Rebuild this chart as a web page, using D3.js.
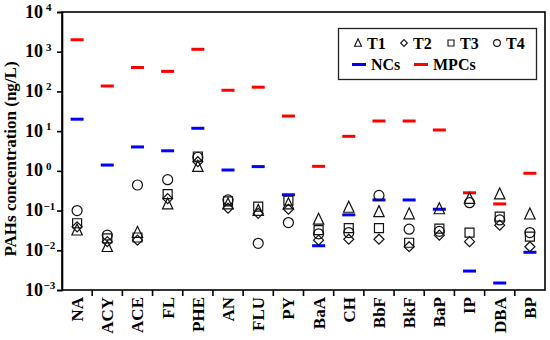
<!DOCTYPE html>
<html><head><meta charset="utf-8">
<script src="https://cdn.jsdelivr.net/npm/d3@7"></script>
<style>
html,body{margin:0;padding:0;background:#fff;}
svg{display:block;}
</style></head>
<body>
<svg id="chart" width="550" height="340"></svg>
<script>
const categories = ["NA","ACY","ACE","FL","PHE","AN","FLU","PY","BaA","CH","BbF","BkF","BaP","IP","DBA","BP"];
const T1 = [0.032,0.0123,0.028,0.145,1.28,0.145,0.10,0.146,0.06,0.12,0.093,0.082,0.11,0.2,0.26,0.081];
const T2 = [0.039,0.0165,0.018,0.20,1.7,0.115,0.085,0.108,0.018,0.019,0.019,0.0123,0.024,0.0165,0.043,0.0123];
const T3 = [0.048,0.020,0.021,0.26,2.3,0.17,0.126,0.178,0.032,0.036,0.036,0.0155,0.035,0.028,0.07,0.022];
const T4 = [0.10,0.024,0.44,0.6,2.2,0.185,0.015,0.05,0.026,0.028,0.24,0.034,0.03,0.158,0.058,0.028];
const NCs = [20,1.4,4.0,3.2,11.8,1.05,1.28,0.25,0.013,0.078,0.185,0.185,0.108,0.003,0.0015,0.0089];
const MPCs = [2000,137,400,320,1150,107,128,24,1.3,7.4,18,18,10.7,0.28,0.147,0.87];
const yTickExps = [-3,-2,-1,0,1,2,3,4];
const seriesNames = ["T1","T2","T3","T4"];
const limitNames = ["NCs","MPCs"];

const FONT = '"Liberation Serif","DejaVu Serif",serif';
const svg = d3.select("#chart");
const L = 62, R = 545, T = 12, B = 290;
const x = d3.scaleBand().domain(categories).range([L, R]).padding(0);
const y = d3.scaleLog().domain([1e-3, 1e4]).range([B, T]);

function txt(sel, size){ return sel.style("font-family",FONT).style("font-weight","bold").style("font-size",size+"px").attr("fill","#000"); }

// custom symbols
const triSym = {draw(c, s){ const r = Math.sqrt(s); c.moveTo(0,-0.62*r); c.lineTo(0.52*r,0.48*r); c.lineTo(-0.52*r,0.48*r); c.closePath(); }};
const diaSym = {draw(c, s){ const r = Math.sqrt(s)/2; c.moveTo(0,-r); c.lineTo(r,0); c.lineTo(0,r); c.lineTo(-r,0); c.closePath(); }};
const sqSym = {draw(c, s){ const r = Math.sqrt(s)/2; c.rect(-r,-r,2*r,2*r); }};
const cirSym = {draw(c, s){ const r = Math.sqrt(s)/2; c.moveTo(r,0); c.arc(0,0,r,0,2*Math.PI); }};
const symTypes = [triSym, diaSym, sqSym, cirSym];
const symSizes = [100, 100, 81, 100];
const limitColors = ["#0000ff","#ff0000"];

// frame
svg.append("rect").attr("x",L).attr("y",T).attr("width",R-L).attr("height",B-T)
  .attr("fill","none").attr("stroke","#000").attr("stroke-width",1.6);

// y axis
const yAxis = d3.axisLeft(y).tickValues(yTickExps.map(e=>Math.pow(10,e))).tickSize(5).tickFormat("");
const gy = svg.append("g").attr("transform",`translate(${L},0)`).call(yAxis);
gy.select(".domain").attr("stroke-width",1.6);
gy.selectAll(".tick line").attr("stroke-width",1.6);
yTickExps.forEach(e=>{
  txt(svg.append("text").attr("x",43).attr("y",y(Math.pow(10,e))+5.5)
    .attr("text-anchor","end"),18).text("10");
  txt(svg.append("text").attr("x", e<0 ? 43.5 : 46).attr("y",y(Math.pow(10,e))-1), 11)
    .text(e<0 ? "\u2212"+(-e) : String(e));
});

// x axis
const xAxis = d3.axisBottom(x).tickSize(0).tickFormat(d=>d);
const gx = svg.append("g").attr("transform",`translate(0,${B})`).call(xAxis);
gx.select(".domain").remove();
txt(gx.selectAll(".tick text").attr("transform","translate(0,7) rotate(-90)")
  .attr("text-anchor","end").attr("dy","0.35em").attr("x",0).attr("y",0), 17);
categories.slice(1).forEach(c=>{
  svg.append("line").attr("x1",x(c)).attr("x2",x(c)).attr("y1",B).attr("y2",B+6)
    .attr("stroke","#000").attr("stroke-width",1.6);
});

// y title
txt(svg.append("text").attr("transform",`translate(16,${(T+B)/2+8}) rotate(-90)`)
  .attr("text-anchor","middle"),17).text("PAHs concentration (ng/L)");

// limit dashes
[NCs, MPCs].forEach((arr,k)=>{
  svg.append("g").selectAll("line").data(arr).join("line")
    .attr("x1",(d,i)=>x(categories[i])+x.bandwidth()/2-6.5)
    .attr("x2",(d,i)=>x(categories[i])+x.bandwidth()/2+6.5)
    .attr("y1",d=>y(d)).attr("y2",d=>y(d))
    .attr("stroke",limitColors[k]).attr("stroke-width",3);
});

// markers
[T1,T2,T3,T4].forEach((arr,k)=>{
  svg.append("g").selectAll("path").data(arr).join("path")
    .attr("d", d3.symbol().type(symTypes[k]).size(symSizes[k]))
    .attr("transform",(d,i)=>`translate(${x(categories[i])+x.bandwidth()/2},${y(d)})`)
    .attr("fill","none").attr("stroke","#111").attr("stroke-width",1.2);
});

// legend
const lg = svg.append("g");
lg.append("rect").attr("x",338.5).attr("y",28.5).attr("width",198).attr("height",51)
  .attr("fill","#fff").attr("stroke","#222").attr("stroke-width",1.3);
const row1 = [358,404,451,497];
seriesNames.forEach((n,k)=>{
  lg.append("path").attr("d", d3.symbol().type(symTypes[k]).size(k===2?36:45)())
    .attr("transform",`translate(${row1[k]},43)`).attr("fill","none").attr("stroke","#111").attr("stroke-width",1.1);
  txt(lg.append("text").attr("x",row1[k]+9).attr("y",48.5),16).text(n);
});
const row2 = [352,414];
limitNames.forEach((n,k)=>{
  lg.append("line").attr("x1",row2[k]).attr("x2",row2[k]+14).attr("y1",64.5).attr("y2",64.5)
    .attr("stroke",limitColors[k]).attr("stroke-width",3);
  txt(lg.append("text").attr("x",row2[k]+19).attr("y",70),16).text(n);
});
</script>
</body></html>
